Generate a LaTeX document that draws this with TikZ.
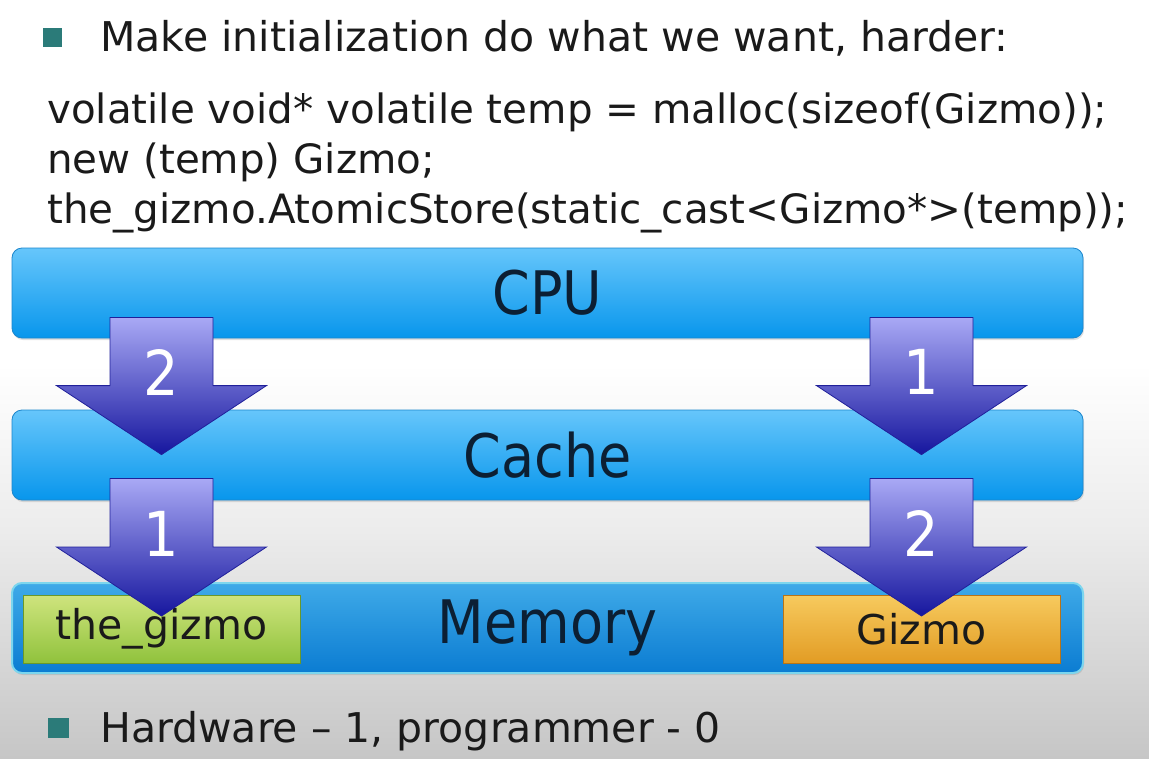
\documentclass[tikz,border=0pt]{standalone}
\usepackage{fontspec}
\setmainfont{DejaVu Sans}
\newfontfamily\labelfont{DejaVu Sans}[FakeStretch=0.9]
\usetikzlibrary{calc,shadows}

\definecolor{bgbot}{HTML}{C6C6C6}
\definecolor{bgmid}{HTML}{ECECEC}
\definecolor{inktext}{HTML}{1A1A1A}
\definecolor{barlabel}{HTML}{0C1F33}
\definecolor{bullet}{HTML}{2B7B79}
\definecolor{bartop}{HTML}{66C6FB}
\definecolor{barbot}{HTML}{0896EC}
\definecolor{barline}{HTML}{1C86CC}
\definecolor{memtop}{HTML}{3FAAE8}
\definecolor{membot}{HTML}{0B7CD2}
\definecolor{memrim}{HTML}{7CD6EE}
\definecolor{greentop}{HTML}{CFE47E}
\definecolor{greenbot}{HTML}{90C23C}
\definecolor{greenline}{HTML}{6A982A}
\definecolor{orangetop}{HTML}{F7CA5E}
\definecolor{orangebot}{HTML}{E29C24}
\definecolor{orangeline}{HTML}{B87416}
\definecolor{arrowtop}{HTML}{A9A9F5}
\definecolor{arrowbot}{HTML}{16169E}
\definecolor{arrowline}{HTML}{20209A}

% the filled area maps onto 25bp..75bp of the shading
\pgfdeclareverticalshading{slidebg}{100bp}{color(0bp)=(bgbot); color(25bp)=(bgbot); color(40bp)=(bgmid); color(51bp)=(white); color(100bp)=(white)}

\tikzset{
  bodytext/.style={text=inktext, inner sep=0pt, font=\fontsize{41}{47}\selectfont},
  codetext/.style={text=inktext, inner sep=0pt, font=\fontsize{40.4}{50}\selectfont},
  bulletbox/.style={fill=bullet, draw=none},
  bar/.style={rounded corners=10pt, minimum width=1071pt, minimum height=90pt,
    top color=bartop, bottom color=barbot, draw=barline, line width=0.8pt,
    text=barlabel, font=\labelfont\fontsize{60}{60}\selectfont,
    drop shadow={opacity=0.25, shadow xshift=1pt, shadow yshift=-2pt}},
  membar/.style={bar, top color=memtop, bottom color=membot, draw=memrim, line width=2pt,
    font=\labelfont\fontsize{60}{60}\selectfont},
  cell/.style={minimum width=277pt, minimum height=68pt, line width=0.8pt,
    text=inktext, font=\fontsize{41}{41}\selectfont},
  greencell/.style={cell, top color=greentop, bottom color=greenbot, draw=greenline},
  orangecell/.style={cell, top color=orangetop, bottom color=orangebot, draw=orangeline},
  blockarrow/.style={top color=arrowtop, bottom color=arrowbot, draw=arrowline, line width=0.8pt, line join=miter},
  arrownum/.style={text=white, inner sep=0pt, font=\labelfont\fontsize{62}{62}\selectfont},
}

% block arrow from the shaft top #1 down to the tip #2, number #3
\newcommand{\blockarrowdraw}[4]{%
  \path[blockarrow] let \p1=(#1), \p2=(#2) in
    (\x1-51.5pt,\y1) -- (\x1+51.5pt,\y1) -- (\x1+51.5pt,\y2+69pt) -- (\x1+105pt,\y2+69pt)
    -- (\x1,\y2) -- (\x1-105pt,\y2+69pt) -- (\x1-51.5pt,\y2+69pt) -- cycle;
  \node[arrownum] (#4) at ($(#1)!0.4!(#2)$) {#3};%
}

\begin{document}
\begin{tikzpicture}[x=1pt,y=-1pt]
  % page and backdrop
  \useasboundingbox (0,0) rectangle (1149,758);
  \shade[shading=slidebg] (0,0) rectangle (1149,758);

  % heading bullet and code lines
  \fill[bulletbox] (43,28) rectangle (62,47);
  \node[bodytext, anchor=base west] (head) at (100,51) {Make initialization do what we want, harder:};
  \node[codetext, anchor=base west] (code1) at (47,123) {volatile void* volatile temp = malloc(sizeof(Gizmo));};
  \node[codetext, anchor=base west] (code2) at (47,173) {new (temp) Gizmo;};
  \node[codetext, anchor=base west] (code3) at (47,223) {the\_gizmo.AtomicStore(static\_cast<Gizmo*>(temp));};

  % the three layers
  \node[bar] (cpu) at (547.5,293) {\raisebox{-3pt}{CPU}};
  \node[bar] (cache) at (547.5,455) {\raisebox{-3pt}{Cache}};
  \node[membar] (mem) at (547.5,628) {\raisebox{-3pt}{Memory}};

  % cells held in memory
  \node[greencell] (thegizmo) at (161.5,629) {\raisebox{-7pt}{the\_gizmo}};
  \node[orangecell] (gizmo) at (921.5,629) {\raisebox{-7pt}{Gizmo}};

  % arrow anchor points between the layers
  \coordinate (l1top) at ($(cpu.south -| thegizmo.center)+(0,-21)$);
  \coordinate (l1tip) at ($(cache.north -| thegizmo.center)+(0,45)$);
  \coordinate (r1top) at ($(cpu.south -| gizmo.center)+(0,-21)$);
  \coordinate (r1tip) at ($(cache.north -| gizmo.center)+(0,45)$);
  \coordinate (l2top) at ($(cache.south -| thegizmo.center)+(0,-22)$);
  \coordinate (l2tip) at ($(mem.north -| thegizmo.center)+(0,34)$);
  \coordinate (r2top) at ($(cache.south -| gizmo.center)+(0,-22)$);
  \coordinate (r2tip) at ($(mem.north -| gizmo.center)+(0,34)$);

  \blockarrowdraw{l1top}{l1tip}{2}{numA}
  \blockarrowdraw{r1top}{r1tip}{1}{numB}
  \blockarrowdraw{l2top}{l2tip}{1}{numC}
  \blockarrowdraw{r2top}{r2tip}{2}{numD}

  % closing bullet
  \fill[bulletbox] (48,718) rectangle (69,738);
  \node[bodytext, anchor=base west] (score) at (100,742) {Hardware – 1, programmer - 0};
\end{tikzpicture}
\end{document}
